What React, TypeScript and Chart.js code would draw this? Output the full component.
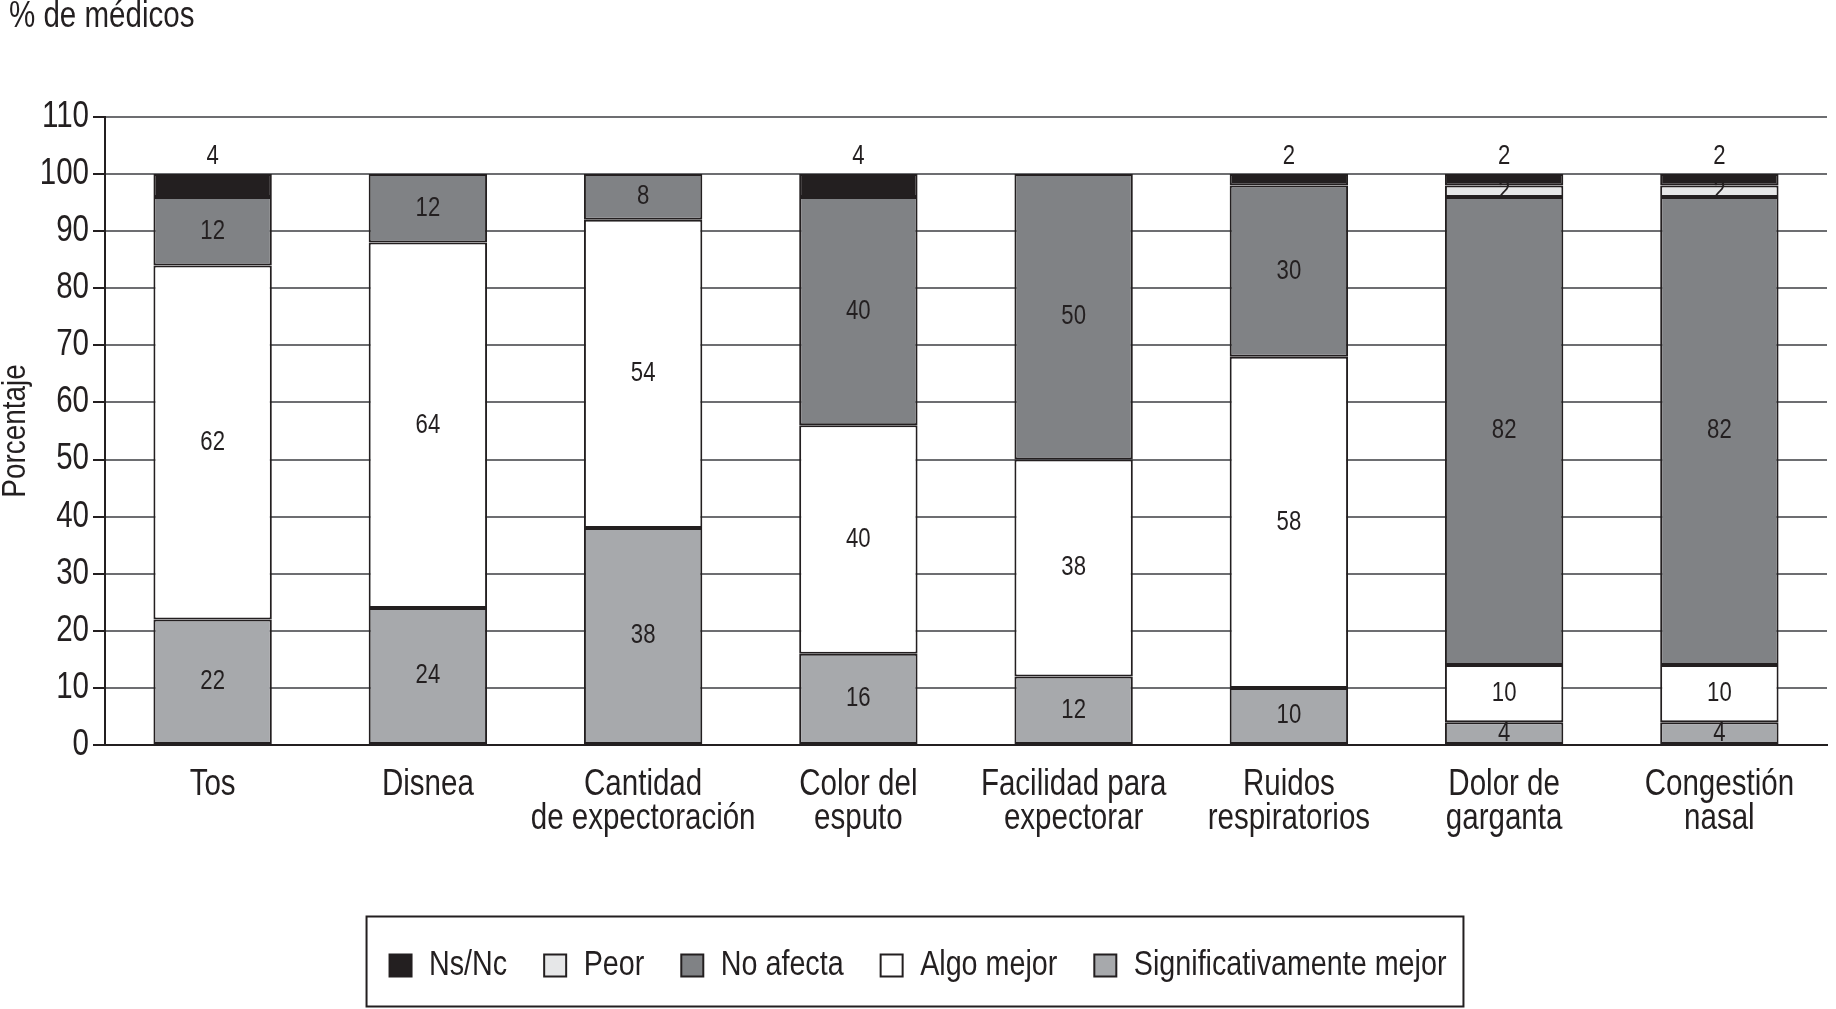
import React, { useEffect, useRef } from 'react';
import { Chart, registerables } from 'chart.js';

Chart.register(...registerables);

// ---- data ----
const categories: string[][] = [
  ['Tos'],
  ['Disnea'],
  ['Cantidad', 'de expectoración'],
  ['Color del', 'esputo'],
  ['Facilidad para', 'expectorar'],
  ['Ruidos', 'respiratorios'],
  ['Dolor de', 'garganta'],
  ['Congestión', 'nasal'],
];
const significativamenteMejor = [22, 24, 38, 16, 12, 10, 4, 4];
const algoMejor = [62, 64, 54, 40, 38, 58, 10, 10];
const noAfecta = [12, 12, 8, 40, 50, 30, 82, 82];
const peor = [0, 0, 0, 0, 0, 0, 2, 2];
const nsNc = [4, 0, 0, 4, 0, 2, 2, 2];
const seriesNames = ['Significativamente mejor', 'Algo mejor', 'No afecta', 'Peor', 'Ns/Nc'];
const yMin = 0;
const yMax = 110;
const yStep = 10;
const chartTitle = '% de médicos';
const yTitle = 'Porcentaje';

// ---- style ----
const FONT = "'Liberation Sans', Arial, sans-serif";
const CONDENSE = 0.82; // emulate a condensed face (Arial Narrow-like)
const INK = '#231f20';
const GRID = '#6d6e71';
const COLORS = ['#a7a9ac', '#ffffff', '#808285', '#e6e7e8', '#231f20'];

function condenseContext(ctx: any) {
  if (!ctx || ctx.__condensed) return;
  ctx.__condensed = true;
  const measure = ctx.measureText.bind(ctx);
  const fill = ctx.fillText.bind(ctx);
  ctx.measureText = (t: string) => {
    const r = measure(t);
    return {
      width: r.width * CONDENSE,
      actualBoundingBoxAscent: r.actualBoundingBoxAscent,
      actualBoundingBoxDescent: r.actualBoundingBoxDescent,
      actualBoundingBoxLeft: r.actualBoundingBoxLeft * CONDENSE,
      actualBoundingBoxRight: r.actualBoundingBoxRight * CONDENSE,
      fontBoundingBoxAscent: r.fontBoundingBoxAscent,
      fontBoundingBoxDescent: r.fontBoundingBoxDescent,
    };
  };
  ctx.fillText = (t: string, x: number, y: number, mw?: number) => {
    const w = measure(t).width * CONDENSE;
    fill(t, x, y, mw !== undefined && mw !== null ? Math.min(mw, w) : w);
  };
}

const segmentLabels = {
  id: 'segmentLabels',
  afterDatasetsDraw(chart: any) {
    const ctx = chart.ctx;
    const last = chart.data.datasets.length - 1;
    ctx.save();
    ctx.fillStyle = INK;
    ctx.font = `27px ${FONT}`;
    ctx.textAlign = 'center';
    ctx.textBaseline = 'middle';
    chart.data.datasets.forEach((ds: any, di: number) => {
      const meta = chart.getDatasetMeta(di);
      meta.data.forEach((bar: any, i: number) => {
        const v = ds.data[i];
        if (!v) return;
        const { x, y, base } = bar.getProps(['x', 'y', 'base'], true);
        const ty = di === last ? y - 18 : (y + base) / 2;
        ctx.fillText(String(v), x, ty);
      });
    });
    ctx.restore();
  },
};

const legendFrame = {
  id: 'legendFrame',
  afterDraw(chart: any) {
    const lg = chart.legend;
    if (!lg || !lg.legendHitBoxes || !lg.legendHitBoxes.length) return;
    const boxes = lg.legendHitBoxes;
    let l = Infinity, r = -Infinity, cy = 0;
    boxes.forEach((b: any) => {
      l = Math.min(l, b.left);
      r = Math.max(r, b.left + b.width);
      cy = b.top + b.height / 2;
    });
    const ctx = chart.ctx;
    ctx.save();
    ctx.strokeStyle = INK;
    ctx.lineWidth = 2;
    ctx.strokeRect(l - 23, cy - 49, r - l + 40, 90);
    ctx.restore();
  },
};

export default function App() {
  const ref = useRef<HTMLCanvasElement | null>(null);
  useEffect(() => {
    if (!ref.current) return;
    condenseContext(ref.current.getContext('2d'));
    const series = [significativamenteMejor, algoMejor, noAfecta, peor, nsNc];
    const chart = new Chart(ref.current, {
      type: 'bar',
      data: {
        labels: categories,
        datasets: series.map((d, i) => ({
          label: seriesNames[i],
          data: d,
          backgroundColor: COLORS[i],
          borderColor: INK,
          borderWidth: 2,
          borderSkipped: false,
          barPercentage: 0.55,
          categoryPercentage: 1,
        })),
      },
      options: {
        animation: false,
        responsive: true,
        maintainAspectRatio: false,
        layout: { padding: { left: 9, right: 9, top: 0, bottom: 16 } },
        plugins: {
          title: {
            display: true,
            text: chartTitle,
            align: 'start',
            color: INK,
            font: { family: FONT, size: 36, weight: 'normal', lineHeight: 1 },
            padding: { top: -1, bottom: 82 },
          },
          legend: {
            position: 'bottom',
            reverse: true,
            labels: {
              color: INK,
              font: { family: FONT, size: 35, lineHeight: 1 },
              boxWidth: 22,
              boxHeight: 22,
              padding: 37,
            },
          },
          tooltip: { enabled: false },
        },
        scales: {
          x: {
            stacked: true,
            grid: { display: false },
            border: { display: true, color: INK, width: 2 },
            ticks: {
              color: INK,
              font: { family: FONT, size: 36, lineHeight: 0.95 },
              padding: 15,
              autoSkip: false,
              maxRotation: 0,
              minRotation: 0,
            },
            afterFit: (s: any) => {
              s.height = 166;
            },
          },
          y: {
            stacked: true,
            min: yMin,
            max: yMax,
            ticks: {
              stepSize: yStep,
              color: INK,
              font: { family: FONT, size: 36 },
              padding: 4,
            },
            grid: { color: GRID, lineWidth: 2, tickColor: INK, tickLength: 12, tickWidth: 2 },
            border: { color: INK, width: 2 },
            title: {
              display: true,
              text: yTitle,
              color: INK,
              font: { family: FONT, size: 34, lineHeight: 1 },
              padding: { top: -10, bottom: 0 },
            },
            afterFit: (s: any) => {
              s.width = 96;
            },
          },
        },
      },
      plugins: [segmentLabels, legendFrame],
    } as any);
    return () => chart.destroy();
  }, []);
  return (
    <div style={{ position: 'absolute', left: 0, top: 0, width: 1836, height: 1009 }}>
      <canvas ref={ref} />
    </div>
  );
}
